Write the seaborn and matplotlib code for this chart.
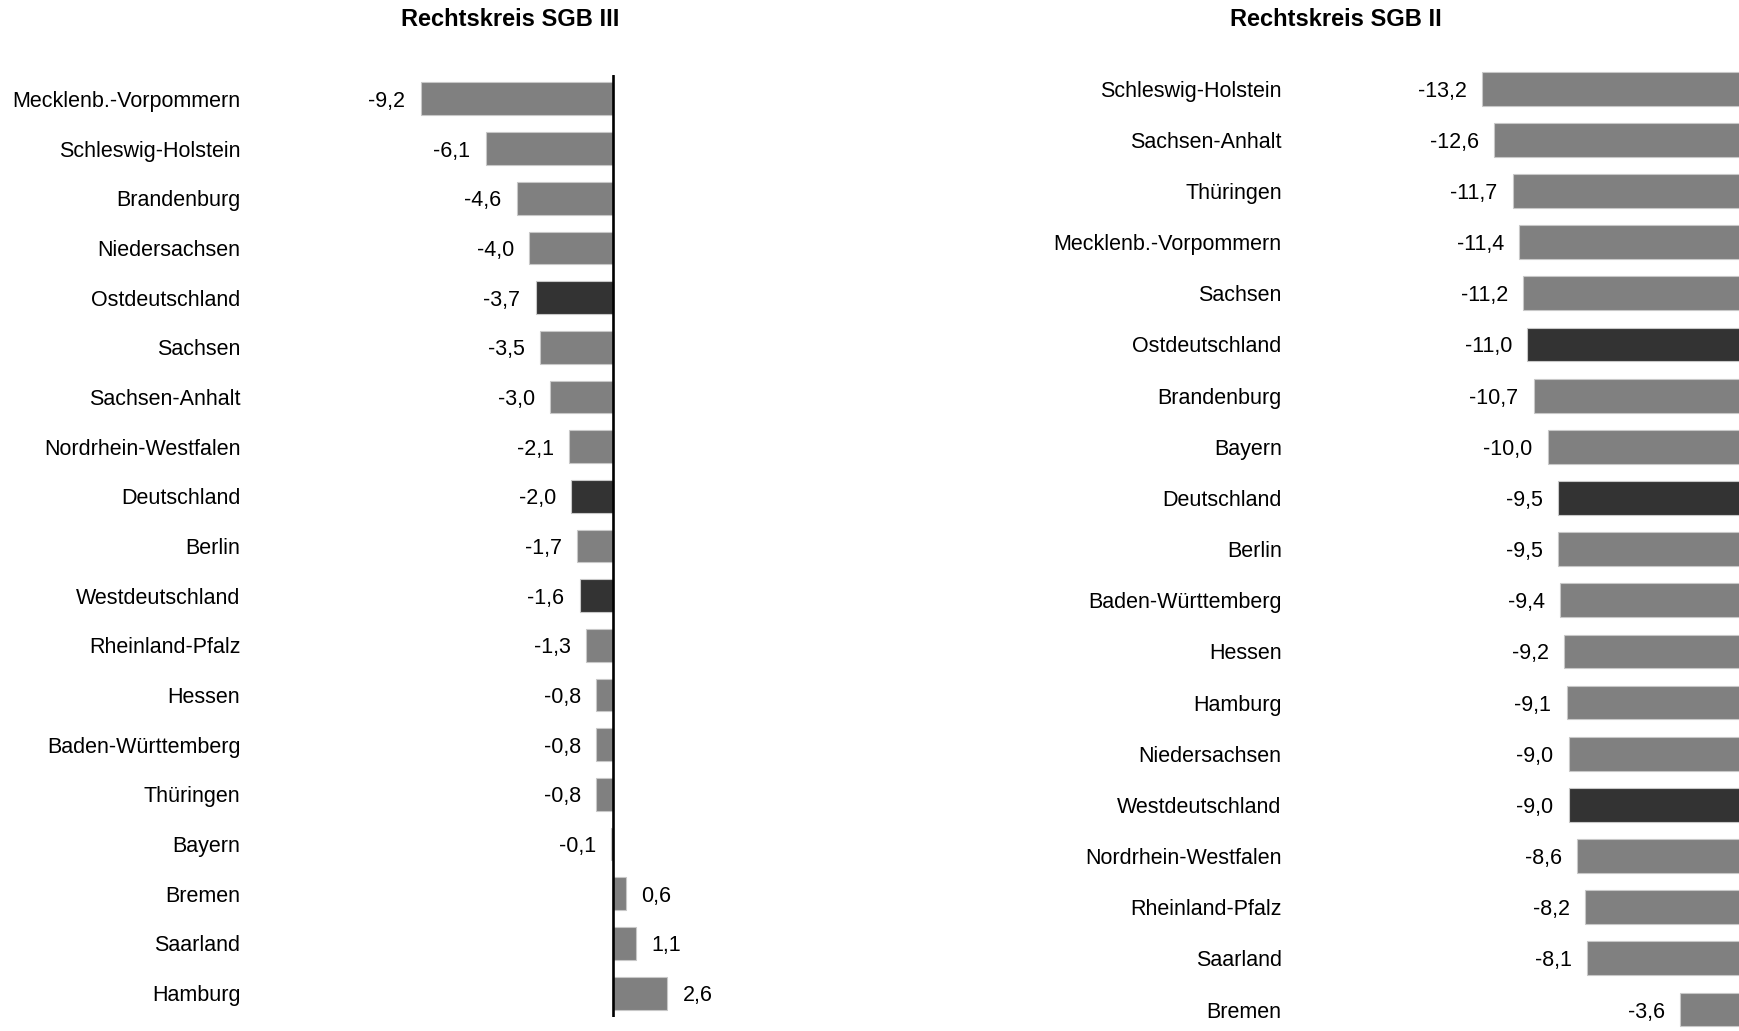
import matplotlib
matplotlib.use("Agg")
import matplotlib.pyplot as plt
import seaborn as sns
import pandas as pd

# Left panel: Rechtskreis SGB III
sgb3_laender = ['Mecklenb.-Vorpommern', 'Schleswig-Holstein', 'Brandenburg', 'Niedersachsen',
                'Ostdeutschland', 'Sachsen', 'Sachsen-Anhalt', 'Nordrhein-Westfalen',
                'Deutschland', 'Berlin', 'Westdeutschland', 'Rheinland-Pfalz', 'Hessen',
                'Baden-Württemberg', 'Thüringen', 'Bayern', 'Bremen', 'Saarland', 'Hamburg']
sgb3_werte = [-9.2, -6.1, -4.6, -4.0, -3.7, -3.5, -3.0, -2.1, -2.0, -1.7, -1.6, -1.3,
              -0.8, -0.8, -0.8, -0.1, 0.6, 1.1, 2.6]

# Right panel: Rechtskreis SGB II
sgb2_laender = ['Schleswig-Holstein', 'Sachsen-Anhalt', 'Thüringen', 'Mecklenb.-Vorpommern',
                'Sachsen', 'Ostdeutschland', 'Brandenburg', 'Bayern', 'Deutschland', 'Berlin',
                'Baden-Württemberg', 'Hessen', 'Hamburg', 'Niedersachsen', 'Westdeutschland',
                'Nordrhein-Westfalen', 'Rheinland-Pfalz', 'Saarland', 'Bremen']
sgb2_werte = [-13.2, -12.6, -11.7, -11.4, -11.2, -11.0, -10.7, -10.0, -9.5, -9.5, -9.4,
              -9.2, -9.1, -9.0, -9.0, -8.6, -8.2, -8.1, -3.6]

aggregate = ['Ostdeutschland', 'Deutschland', 'Westdeutschland']

sns.set_style('white')
plt.rcParams['font.family'] = ['Liberation Sans', 'DejaVu Sans']
plt.rcParams['text.color'] = 'black'
plt.rcParams['ytick.color'] = 'black'

fig = plt.figure(figsize=(17.39, 10.31), dpi=100)
W, H = 1739, 1031
FS = 15.5


def panel(rect_px, laender, werte, xlim, ylim, title, title_x, pad, zero_line):
    x0, y0, x1, y1 = rect_px
    ax = fig.add_axes([x0 / W, 1 - y1 / H, (x1 - x0) / W, (y1 - y0) / H])
    df = pd.DataFrame({'Land': laender, 'Wert': werte})
    farben = {l: ('#333333' if l in aggregate else '#808080') for l in laender}
    sns.barplot(data=df, x='Wert', y='Land', hue='Land', palette=farben, orient='h',
                width=0.66, edgecolor='#c8c8c8', linewidth=0.8, legend=False, ax=ax)
    ax.set_xlim(*xlim)
    ax.set_ylim(*ylim)
    for s in ax.spines.values():
        s.set_visible(False)
    ax.set_xticks([])
    ax.set_xlabel('')
    ax.set_ylabel('')
    ax.tick_params(axis='y', length=0, pad=pad, labelsize=FS, labelcolor='black')
    if zero_line:
        ax.axvline(0, color='black', lw=1.9, zorder=5)
    for i, v in enumerate(werte):
        txt = f'{v:.1f}'.replace('.', ',')
        if v < 0:
            ax.annotate(txt, (v, i), xytext=(-11, 0), textcoords='offset points',
                        ha='right', va='center_baseline', fontsize=FS)
        else:
            ax.annotate(txt, (v, i), xytext=(11, 0), textcoords='offset points',
                        ha='left', va='center_baseline', fontsize=FS)
    fig.text(title_x / W, 1 - 19 / H, title, ha='center', va='center',
             fontsize=17, fontweight='bold')
    return ax


# left: zero at x=613 px, 20.9 px per unit
panel((250, 75, 760, 1017), sgb3_laender, sgb3_werte,
      ((250 - 613) / 20.9, (760 - 613) / 20.9), (18.48, -0.48),
      'Rechtskreis SGB III', 510, 7, True)

# right: zero at x=1754 px (outside the picture), 20.6 px per unit
panel((1290, 58, 1739, 1031), sgb2_laender, sgb2_werte,
      ((1290 - 1754) / 20.6, (1739 - 1754) / 20.6), (18.42, -0.6),
      'Rechtskreis SGB II', 1336, 6, False)

plt.savefig('out.png', dpi=100)
